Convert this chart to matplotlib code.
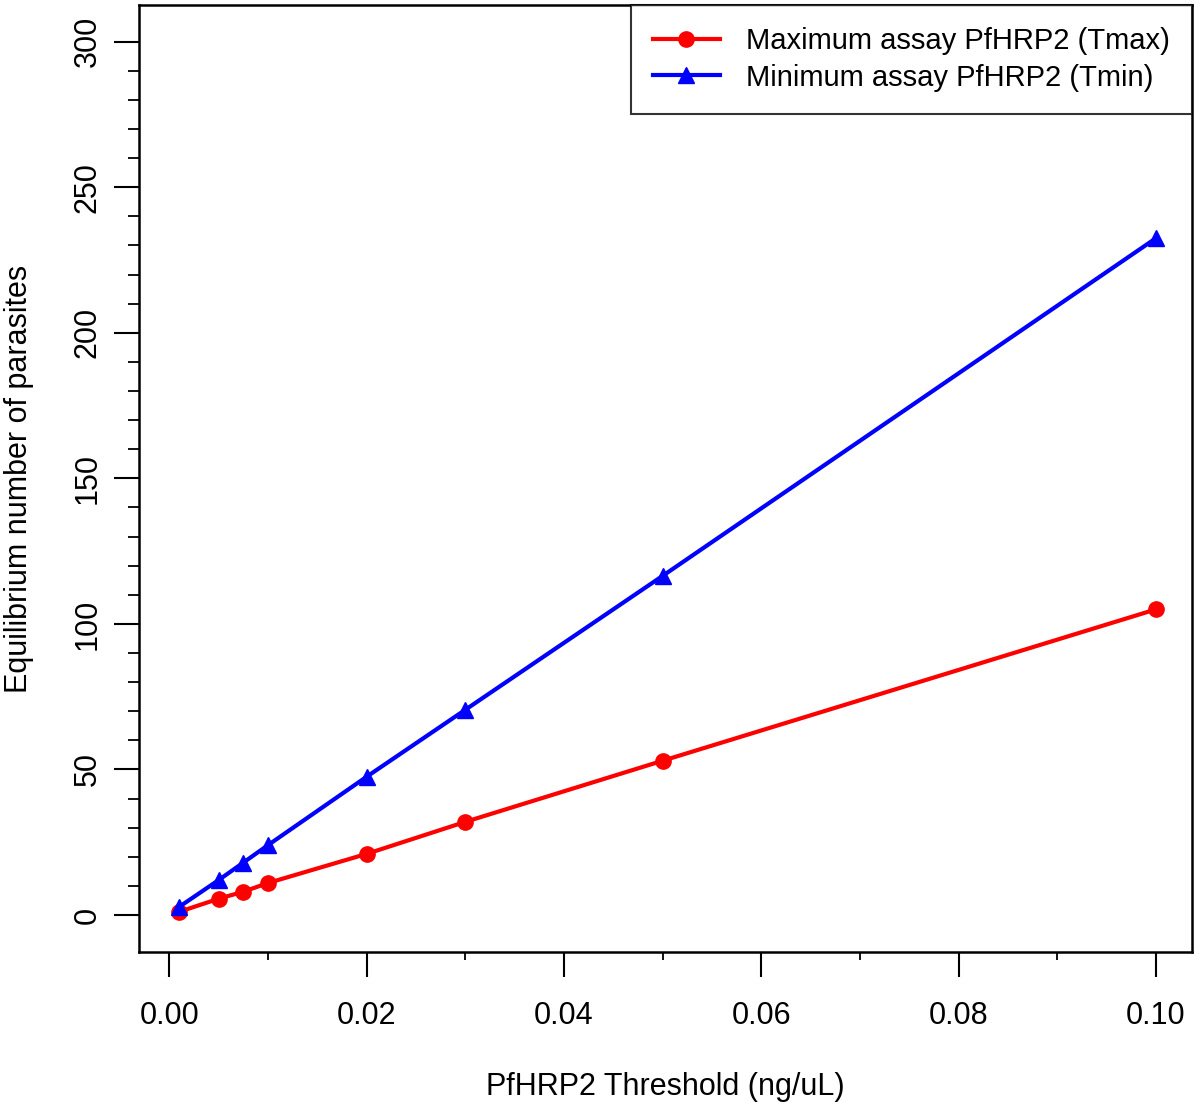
import numpy as np
import matplotlib
matplotlib.use("Agg")
import matplotlib.pyplot as plt
from matplotlib.ticker import FixedLocator

plt.rcParams['font.family'] = ['Liberation Sans', 'DejaVu Sans']

# PfHRP2 threshold (ng/uL) and equilibrium parasite counts
threshold = [0.001, 0.005, 0.0075, 0.01, 0.02, 0.03, 0.05, 0.1]
tmax_parasites = [1.1, 5.6, 8.0, 11.0, 21.0, 32.0, 53.0, 105.0]
tmin_parasites = [2.8, 12.0, 18.0, 24.0, 47.5, 70.5, 116.5, 232.5]

x_ticks = [0.00, 0.02, 0.04, 0.06, 0.08, 0.10]
x_tick_labels = ["0.00", "0.02", "0.04", "0.06", "0.08", "0.10"]
y_ticks = [0, 50, 100, 150, 200, 250, 300]

fs = 22

fig = plt.figure(figsize=(12, 11.05), dpi=100)
ax = fig.add_axes([139/1200, (1105-952)/1105, (1192-139)/1200, (952-5)/1105])

ax.plot(threshold, tmax_parasites, color='#ff0000', lw=3, marker='o', ms=11,
        label='Maximum assay PfHRP2 (Tmax)')
ax.plot(threshold, tmin_parasites, color='#0000ff', lw=3, marker='^', ms=12,
        label='Minimum assay PfHRP2 (Tmin)')

ax.set_xlim(-0.00307, 0.10365)
ax.set_ylim(-12.7, 312.6)

ax.set_xticks(x_ticks)
ax.set_xticklabels(x_tick_labels)
ax.set_yticks(y_ticks)
ax.set_yticklabels([str(v) for v in y_ticks], rotation=90, va='center')
ax.xaxis.set_minor_locator(FixedLocator(np.arange(0, 0.1001, 0.01)))
ax.yaxis.set_minor_locator(FixedLocator(np.arange(0, 301, 10)))

ax.tick_params(which='major', direction='out', length=18, width=1.5,
               labelsize=fs, pad=17, color='black')
ax.tick_params(axis='y', which='major', pad=8)
ax.tick_params(axis='x', which='minor', direction='out', length=6, width=1.3)
ax.tick_params(axis='y', which='minor', direction='out', length=8, width=1.3)
for s in ax.spines.values():
    s.set_linewidth(1.8)

ax.set_xlabel('PfHRP2 Threshold (ng/uL)', fontsize=fs, labelpad=30)
ax.set_ylabel('Equilibrium number of parasites', fontsize=fs, va='center')
ax.yaxis.set_label_coords(-0.114, 0.5)

leg = ax.legend(loc='upper right', fontsize=21, frameon=True, fancybox=False,
                borderaxespad=0, handlelength=2.3, handletextpad=0.9,
                borderpad=0.75, labelspacing=0.3)
leg.get_frame().set_edgecolor('black')
leg.get_frame().set_linewidth(1.5)

fig.savefig('out.png', dpi=100, facecolor='white')
